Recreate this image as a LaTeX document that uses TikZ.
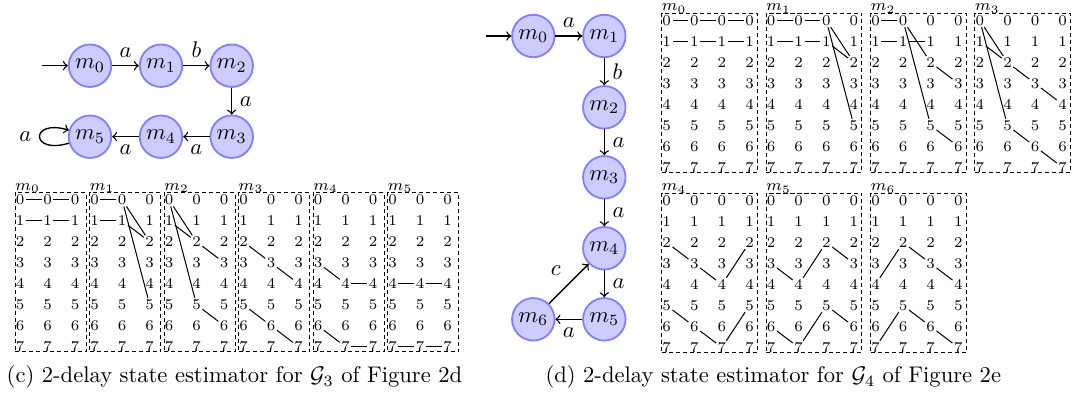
\documentclass[tikz,border=0pt]{standalone}
\usetikzlibrary{fit,calc}
\newcommand{\mkgrid}[6]{%
  \foreach \c in {0,...,#4}{\foreach \r in {0,...,7}{
     \node[digit] (#1-\c-\r) at ({#2+5+27.6*\c},{#3+7.5+21*\r}) {\r};}}
  \coordinate (#1-nw) at (#2,#3);
  \coordinate (#1-se) at ({#2+#5},{#3+159.5});
  \node[gridbox, fit=(#1-nw)(#1-se)] (#1) {};
  \node[gridlabel] (#1-lab) at (#1.north west) {$m_{#6}$};
}
\newcommand{\seg}[5]{\draw[gl] (#1-#2-#3) -- (#1-#4-#5);}
\begin{document}
\begin{tikzpicture}[x=0.4425pt,y=-0.4425pt,
  state/.style={circle, draw=blue!50, fill=blue!20, thick, minimum size=18.8pt, inner sep=0pt},
  edgearrow/.style={->, semithick},
  digit/.style={inner sep=0.5pt, font={\fontsize{6.6}{7}\selectfont}},
  gridbox/.style={draw, dash pattern=on 1.8pt off 1.3pt, inner sep=0pt},
  gridlabel/.style={anchor=south west, inner sep=0pt, yshift=-0.4pt, font=\scriptsize},
  gl/.style={line width=0.45pt},
  captext/.style={inner sep=0pt}
]
\useasboundingbox (0,0) rectangle (1075,394);

% ---------- graph (c)
\node[state] (gc0) at (90,65.7) {$m_0$};
\node[state] (gc1) at (161,65.7) {$m_1$};
\node[state] (gc2) at (231.7,65.7) {$m_2$};
\node[state] (gc3) at (231.7,136.7) {$m_3$};
\node[state] (gc4) at (161,136.7) {$m_4$};
\node[state] (gc5) at (90,136.7) {$m_5$};
\coordinate (gcs) at (41.7,65.7);
\draw[edgearrow] (gcs) -- (gc0);
\draw[edgearrow] (gc0) -- node[above] {$a$} (gc1);
\draw[edgearrow] (gc1) -- node[above] {$b$} (gc2);
\draw[edgearrow] (gc2) -- node[right] {$a$} (gc3);
\draw[edgearrow] (gc3) -- node[below] {$a$} (gc4);
\draw[edgearrow] (gc4) -- node[below] {$a$} (gc5);
\draw[edgearrow] (gc5) to[out=197, in=163, min distance=18pt, max distance=18pt] node[left] {$a$} (gc5);

% ---------- graph (d)
\node[state] (gd0) at (533.3,36) {$m_0$};
\node[state] (gd1) at (604.3,36) {$m_1$};
\node[state] (gd2) at (604.3,107.3) {$m_2$};
\node[state] (gd3) at (604.3,177.3) {$m_3$};
\node[state] (gd4) at (604.3,248.3) {$m_4$};
\node[state] (gd5) at (604.3,319.3) {$m_5$};
\node[state] (gd6) at (533.3,319.3) {$m_6$};
\coordinate (gds) at (486,36);
\draw[edgearrow] (gds) -- (gd0);
\draw[edgearrow] (gd0) -- node[above] {$a$} (gd1);
\draw[edgearrow] (gd1) -- node[right] {$b$} (gd2);
\draw[edgearrow] (gd2) -- node[right] {$a$} (gd3);
\draw[edgearrow] (gd3) -- node[right] {$a$} (gd4);
\draw[edgearrow] (gd4) -- node[right] {$a$} (gd5);
\draw[edgearrow] (gd5) -- node[below] {$a$} (gd6);
\draw[edgearrow] (gd6) -- node[above left] {$c$} (gd4);

% ---------- grids (c)
\mkgrid{c0}{15}{192.3}{2}{71}{0}
\mkgrid{c1}{89.5}{192.3}{2}{71}{1}
\mkgrid{c2}{164}{192.3}{2}{71}{2}
\mkgrid{c3}{238.5}{192.3}{2}{71}{3}
\mkgrid{c4}{313}{192.3}{2}{71}{4}
\mkgrid{c5}{387.5}{192.3}{2}{71}{5}

\seg{c0}{0}{0}{1}{0}\seg{c0}{1}{0}{2}{0}\seg{c0}{0}{1}{1}{1}\seg{c0}{1}{1}{2}{1}
\seg{c1}{0}{0}{1}{0}\seg{c1}{0}{1}{1}{1}\seg{c1}{1}{0}{2}{2}\seg{c1}{1}{0}{2}{5}\seg{c1}{1}{1}{2}{2}
\seg{c2}{0}{0}{1}{2}\seg{c2}{0}{0}{1}{5}\seg{c2}{0}{1}{1}{2}\seg{c2}{1}{2}{2}{3}\seg{c2}{1}{5}{2}{6}
\seg{c3}{0}{2}{1}{3}\seg{c3}{1}{3}{2}{4}\seg{c3}{0}{5}{1}{6}\seg{c3}{1}{6}{2}{7}
\seg{c4}{0}{3}{1}{4}\seg{c4}{1}{4}{2}{4}\seg{c4}{0}{6}{1}{7}\seg{c4}{1}{7}{2}{7}
\seg{c5}{0}{4}{1}{4}\seg{c5}{1}{4}{2}{4}\seg{c5}{0}{7}{1}{7}\seg{c5}{1}{7}{2}{7}

% ---------- grids (d)
\mkgrid{d0}{661.7}{13}{3}{95.6}{0}
\mkgrid{d1}{766.1}{13}{3}{95.6}{1}
\mkgrid{d2}{870.5}{13}{3}{95.6}{2}
\mkgrid{d3}{974.9}{13}{3}{95.6}{3}
\mkgrid{d4}{661.7}{193}{3}{95.6}{4}
\mkgrid{d5}{766.1}{193}{3}{95.6}{5}
\mkgrid{d6}{870.5}{193}{3}{95.6}{6}

\seg{d0}{0}{0}{1}{0}\seg{d0}{1}{0}{2}{0}\seg{d0}{2}{0}{3}{0}
\seg{d0}{0}{1}{1}{1}\seg{d0}{1}{1}{2}{1}\seg{d0}{2}{1}{3}{1}
\seg{d1}{0}{0}{1}{0}\seg{d1}{1}{0}{2}{0}\seg{d1}{0}{1}{1}{1}\seg{d1}{1}{1}{2}{1}
\seg{d1}{2}{0}{3}{2}\seg{d1}{2}{0}{3}{5}\seg{d1}{2}{1}{3}{2}
\seg{d2}{0}{0}{1}{0}\seg{d2}{0}{1}{1}{1}\seg{d2}{1}{1}{2}{1}\seg{d2}{1}{0}{2}{2}\seg{d2}{1}{0}{2}{5}
\seg{d2}{2}{2}{3}{3}\seg{d2}{2}{5}{3}{6}
\seg{d3}{0}{0}{1}{2}\seg{d3}{0}{0}{1}{5}\seg{d3}{0}{1}{1}{2}\seg{d3}{1}{2}{2}{3}\seg{d3}{2}{3}{3}{4}
\seg{d3}{1}{5}{2}{6}\seg{d3}{2}{6}{3}{7}
\seg{d4}{0}{2}{1}{3}\seg{d4}{1}{3}{2}{4}\seg{d4}{2}{4}{3}{2}\seg{d4}{0}{5}{1}{6}\seg{d4}{1}{6}{2}{7}\seg{d4}{2}{7}{3}{5}
\seg{d5}{0}{3}{1}{4}\seg{d5}{1}{4}{2}{2}\seg{d5}{2}{2}{3}{3}\seg{d5}{0}{6}{1}{7}\seg{d5}{1}{7}{2}{5}\seg{d5}{2}{5}{3}{6}
\seg{d6}{0}{4}{1}{2}\seg{d6}{1}{2}{2}{3}\seg{d6}{2}{3}{3}{4}\seg{d6}{0}{7}{1}{5}\seg{d6}{1}{5}{2}{6}\seg{d6}{2}{6}{3}{7}

% ---------- captions
\node[captext] (capc) at (234.5,377) {(c) 2-delay state estimator for $\mathcal{G}_3$ of Figure 2d};
\node[captext] (capd) at (773.3,377) {(d) 2-delay state estimator for $\mathcal{G}_4$ of Figure 2e};
\end{tikzpicture}
\end{document}
